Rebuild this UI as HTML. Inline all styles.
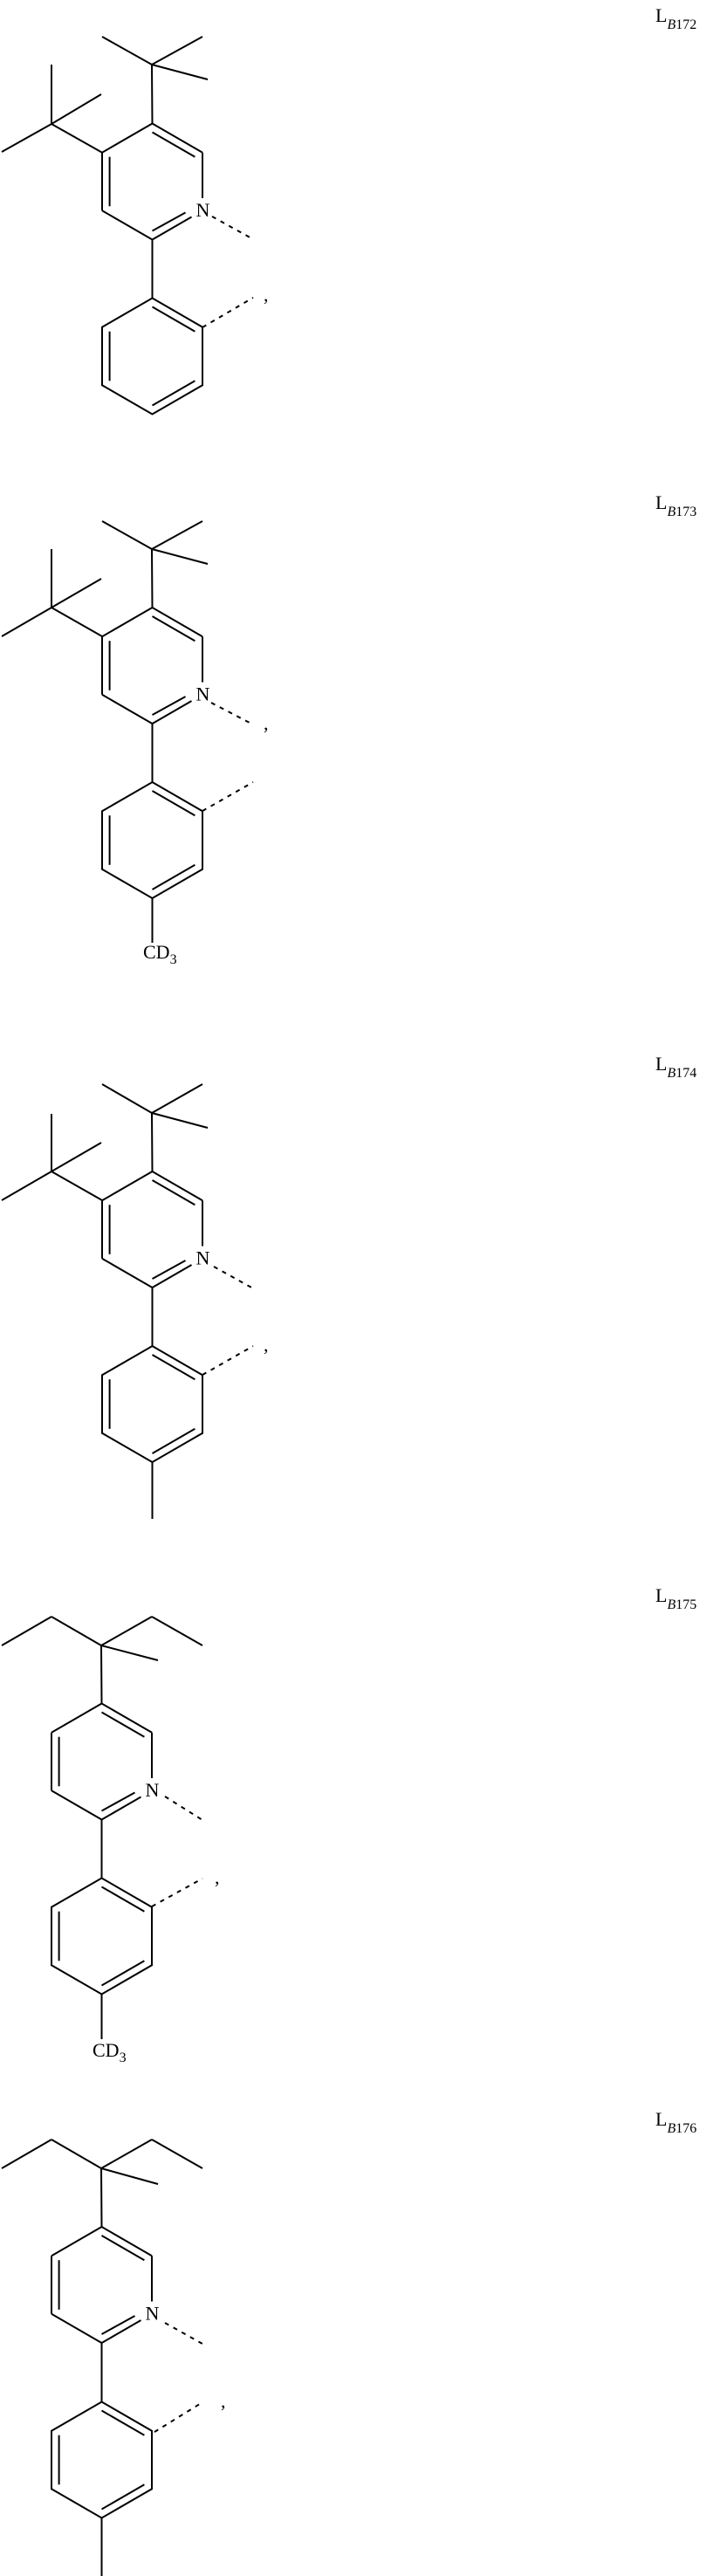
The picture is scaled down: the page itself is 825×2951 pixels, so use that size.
<!DOCTYPE html>
<html><head><meta charset="utf-8"><style>
html,body{margin:0;padding:0;background:#fff;}
svg{display:block;}
text{font-family:"Liberation Serif",serif;fill:#000;}
</style></head><body>
<svg width="825" height="2951" viewBox="0 0 825 2951" xmlns="http://www.w3.org/2000/svg">
<defs>
<g id="pyr" stroke="#000" stroke-width="2" fill="none">
<line x1="0" y1="-66.5" x2="57.5" y2="-33.25"/>
<line x1="57.5" y1="-33.25" x2="57.5" y2="19"/>
<line x1="45" y1="40.5" x2="0" y2="66.5"/>
<line x1="0" y1="66.5" x2="-57.5" y2="33.25"/>
<line x1="-57.5" y1="33.25" x2="-57.5" y2="-33.25"/>
<line x1="-57.5" y1="-33.25" x2="0" y2="-66.5"/>
<line x1="0" y1="-56.5" x2="48.9" y2="-28.3"/>
<line x1="-48.9" y1="28.3" x2="-48.9" y2="-28.3"/>
<line x1="0" y1="56.5" x2="38" y2="35.5"/>
</g>
<g id="ph" stroke="#000" stroke-width="2" fill="none">
<polygon points="0,-66.5 57.5,-33.25 57.5,33.25 0,66.5 -57.5,33.25 -57.5,-33.25"/>
<line x1="0" y1="-56.5" x2="48.9" y2="-28.3"/>
<line x1="-48.9" y1="28.3" x2="-48.9" y2="-28.3"/>
<line x1="0" y1="56.5" x2="48.9" y2="28.3"/>
</g>
</defs>

<g stroke="#000" stroke-width="2" fill="none">
<!-- Structure 1 -->
<line x1="174.5" y1="141.5" x2="174" y2="74"/>
<line x1="174" y1="74" x2="117" y2="42"/>
<line x1="174" y1="74" x2="232" y2="42"/>
<line x1="174" y1="74" x2="238" y2="91"/>
<line x1="117" y1="174.75" x2="59" y2="142"/>
<line x1="59" y1="142" x2="59" y2="74"/>
<line x1="59" y1="142" x2="116" y2="108"/>
<line x1="59" y1="142" x2="2" y2="174"/>
<line x1="174.5" y1="274.5" x2="174.5" y2="341.5"/>
<line x1="243" y1="248" x2="290" y2="274" stroke-dasharray="5,6"/>
<line x1="232" y1="375" x2="290" y2="341" stroke-dasharray="5,6"/>

<!-- Structure 2 -->
<line x1="174.5" y1="696" x2="174" y2="629"/>
<line x1="174" y1="629" x2="117" y2="597"/>
<line x1="174" y1="629" x2="232" y2="597"/>
<line x1="174" y1="629" x2="238" y2="646"/>
<line x1="117" y1="729" x2="59" y2="696"/>
<line x1="59" y1="696" x2="59" y2="629"/>
<line x1="59" y1="696" x2="116" y2="663"/>
<line x1="59" y1="696" x2="2" y2="729"/>
<line x1="174.5" y1="829" x2="174.5" y2="896"/>
<line x1="242" y1="805" x2="290" y2="830" stroke-dasharray="5,6"/>
<line x1="232" y1="929" x2="290" y2="896" stroke-dasharray="5,6"/>
<line x1="174.5" y1="1029" x2="174.5" y2="1080"/>

<!-- Structure 3 -->
<line x1="174.5" y1="1342" x2="174" y2="1275"/>
<line x1="174" y1="1275" x2="117" y2="1242"/>
<line x1="174" y1="1275" x2="232" y2="1242"/>
<line x1="174" y1="1275" x2="238" y2="1292"/>
<line x1="117" y1="1375" x2="59" y2="1342"/>
<line x1="59" y1="1342" x2="59" y2="1276"/>
<line x1="59" y1="1342" x2="116" y2="1309"/>
<line x1="59" y1="1342" x2="2" y2="1375"/>
<line x1="174.5" y1="1475" x2="174.5" y2="1542"/>
<line x1="245" y1="1451" x2="290" y2="1476" stroke-dasharray="5,6"/>
<line x1="232" y1="1575" x2="290" y2="1542" stroke-dasharray="5,6"/>
<line x1="174.5" y1="1675" x2="174.5" y2="1740"/>

<!-- Structure 4 -->
<line x1="116.5" y1="1951.5" x2="116" y2="1885"/>
<line x1="116" y1="1885" x2="59" y2="1852"/>
<line x1="59" y1="1852" x2="2" y2="1885"/>
<line x1="116" y1="1885" x2="174" y2="1852"/>
<line x1="174" y1="1852" x2="232" y2="1885"/>
<line x1="116" y1="1885" x2="181" y2="1902"/>
<line x1="189" y1="2058" x2="232" y2="2085" stroke-dasharray="5,6"/>
<line x1="116.5" y1="2084.5" x2="116.5" y2="2151.5"/>
<line x1="174" y1="2184" x2="232" y2="2152" stroke-dasharray="5,6"/>
<line x1="116.5" y1="2284.5" x2="116.5" y2="2336"/>

<!-- Structure 5 -->
<line x1="116.5" y1="2551" x2="116" y2="2484"/>
<line x1="116" y1="2484" x2="59" y2="2451"/>
<line x1="59" y1="2451" x2="2" y2="2484"/>
<line x1="116" y1="2484" x2="174" y2="2451"/>
<line x1="174" y1="2451" x2="232" y2="2484"/>
<line x1="116" y1="2484" x2="181" y2="2502"/>
<line x1="189" y1="2661" x2="232" y2="2685" stroke-dasharray="5,6"/>
<line x1="116.5" y1="2684" x2="116.5" y2="2752"/>
<line x1="177" y1="2786" x2="232" y2="2752" stroke-dasharray="5,6"/>
<line x1="116.5" y1="2885" x2="116.5" y2="2951"/>
</g>

<use href="#pyr" transform="translate(174.5,208)"/>
<use href="#ph" transform="translate(174.5,408)"/>
<use href="#pyr" transform="translate(174.5,762.5)"/>
<use href="#ph" transform="translate(174.5,962.5)"/>
<use href="#pyr" transform="translate(174.5,1408.5)"/>
<use href="#ph" transform="translate(174.5,1608.5)"/>
<use href="#pyr" transform="translate(116.5,2018)"/>
<use href="#ph" transform="translate(116.5,2218)"/>
<use href="#pyr" transform="translate(116.5,2617.5)"/>
<use href="#ph" transform="translate(116.5,2818)"/>

<g font-size="22" text-anchor="middle">
<text x="232.5" y="248">N</text>
<text x="232.5" y="802.5">N</text>
<text x="232.5" y="1448.5">N</text>
<text x="174.5" y="2058">N</text>
<text x="174.5" y="2657.5">N</text>
</g>
<g font-size="22">
<text x="302" y="345">,</text>
<text x="302" y="836">,</text>
<text x="302" y="1548">,</text>
<text x="246" y="2158">,</text>
<text x="253" y="2758">,</text>
<text x="164" y="1098">CD<tspan font-size="16" dy="6">3</tspan></text>
<text x="106" y="2356">CD<tspan font-size="16" dy="6">3</tspan></text>
<text x="751" y="25">L<tspan font-size="16" dy="8" font-style="italic">B</tspan><tspan font-size="16">172</tspan></text>
<text x="751" y="583">L<tspan font-size="16" dy="8" font-style="italic">B</tspan><tspan font-size="16">173</tspan></text>
<text x="751" y="1226">L<tspan font-size="16" dy="8" font-style="italic">B</tspan><tspan font-size="16">174</tspan></text>
<text x="751" y="1835">L<tspan font-size="16" dy="8" font-style="italic">B</tspan><tspan font-size="16">175</tspan></text>
<text x="751" y="2435">L<tspan font-size="16" dy="8" font-style="italic">B</tspan><tspan font-size="16">176</tspan></text>
</g>
</svg>
</body></html>
